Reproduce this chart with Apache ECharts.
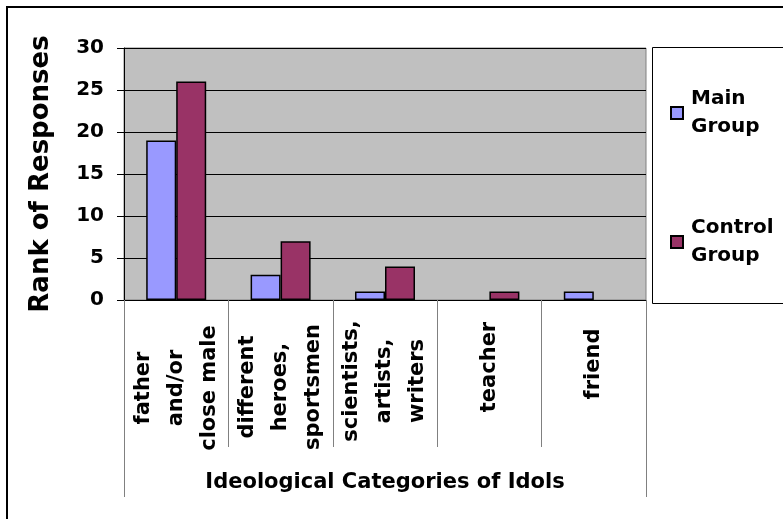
<!DOCTYPE html>
<html>
<head>
<meta charset="utf-8">
<script src="https://cdn.jsdelivr.net/npm/echarts@6/dist/echarts.min.js"></script>
<style>
  html, body { margin: 0; padding: 0; background: #ffffff; overflow: hidden; }
  #chart { width: 783px; height: 519px; }
</style>
</head>
<body>
<div id="chart"></div>
<script>
// Idol categories named by respondents, two survey groups
const categories = [
  'father\nand/or\nclose male',
  'different\nheroes,\nsportsmen',
  'scientists,\nartists,\nwriters',
  'teacher',
  'friend'
];
const mainGroup = [19, 3, 1, 0, 1];
const controlGroup = [26, 7, 4, 1, 0];
const yTicks = [0, 5, 10, 15, 20, 25, 30];

// per-label upward nudge of the rotated category text (px of left padding)
const labelLift = [0, 2, 14, 42, 48];

const FONT = 'DejaVu Sans';

// a zero count gets no outline so nothing shows on the axis
function barData(values) {
  return values.map(v => (v === 0 ? { value: v, itemStyle: { borderWidth: 0 } } : v));
}

const chart = echarts.init(document.getElementById('chart'), null, { renderer: 'canvas' });

const option = {
  backgroundColor: '#ffffff',
  animation: false,
  graphic: [
    {
      // chart frame (open towards the right and bottom)
      type: 'polyline',
      z: -10,
      shape: { points: [[7, 519], [7, 7], [783, 7]] },
      style: { fill: 'none', stroke: '#000000', lineWidth: 2 }
    },
    {
      // legend panel
      type: 'polyline',
      z: -5,
      shape: { points: [[783, 47.5], [652.5, 47.5], [652.5, 303.5], [783, 303.5]] },
      style: { fill: 'none', stroke: '#000000', lineWidth: 1 }
    }
  ],
  grid: {
    left: 124, right: 137, top: 48, bottom: 219,
    outerBoundsMode: 'none',
    containLabel: false,
    show: true,
    backgroundColor: '#C0C0C0',
    borderColor: '#808080',
    borderWidth: 1
  },
  legend: {
    orient: 'vertical',
    left: 670,
    top: 71,
    padding: 0,
    itemWidth: 12,
    itemHeight: 12,
    itemGap: 45,
    icon: 'rect',
    data: ['Main\nGroup', 'Control\nGroup'],
    textStyle: {
      fontFamily: FONT,
      fontWeight: 'bold',
      fontSize: 20,
      color: '#000000',
      lineHeight: 28,
      padding: [28, 0, 0, 3]
    }
  },
  xAxis: [
    {
      type: 'category',
      data: categories.map((c, i) => ({
        value: c,
        textStyle: {
          align: 'center',
          verticalAlign: 'middle',
          padding: [0, 0, 0, labelLift[i]]
        }
      })),
      position: 'bottom',
      axisLine: { show: true, lineStyle: { color: '#000000', width: 1 } },
      axisTick: { show: true, length: 147, lineStyle: { color: '#808080', width: 1 } },
      axisLabel: {
        interval: 0,
        rotate: 90,
        align: 'center',
        verticalAlign: 'middle',
        margin: 88,
        fontFamily: FONT,
        fontWeight: 'bold',
        fontSize: 21,
        lineHeight: 33,
        color: '#000000'
      },
      splitLine: { show: false },
      name: 'Ideological Categories of Idols',
      nameLocation: 'middle',
      nameGap: 172,
      nameTextStyle: {
        fontFamily: FONT,
        fontWeight: 'bold',
        fontSize: 21,
        color: '#000000'
      }
    },
    {
      // outer frame lines of the category band
      type: 'value',
      min: 0,
      max: 1,
      interval: 1,
      position: 'bottom',
      axisLine: { show: false },
      axisTick: { show: true, length: 197, lineStyle: { color: '#808080', width: 1 } },
      axisLabel: { show: false },
      splitLine: { show: false }
    }
  ],
  yAxis: {
    type: 'value',
    min: yTicks[0],
    max: yTicks[yTicks.length - 1],
    interval: yTicks[1] - yTicks[0],
    axisLine: { show: true, lineStyle: { color: '#000000', width: 1 } },
    axisTick: { show: true, length: 7, lineStyle: { color: '#000000' } },
    axisLabel: {
      margin: 20,
      fontFamily: FONT,
      fontWeight: 'bold',
      fontSize: 20,
      color: '#000000'
    },
    splitLine: { show: true, lineStyle: { color: '#000000', width: 1 } },
    name: 'Rank of Responses',
    nameLocation: 'middle',
    nameRotate: 90,
    nameGap: 70,
    nameTextStyle: {
      fontFamily: FONT,
      fontWeight: 'bold',
      fontSize: 26,
      color: '#000000'
    }
  },
  series: [
    {
      name: 'Main\nGroup',
      type: 'bar',
      xAxisIndex: 0,
      data: barData(mainGroup),
      barWidth: 30,
      barGap: '0%',
      itemStyle: { color: '#9999FF', borderColor: '#000000', borderWidth: 1.5 }
    },
    {
      name: 'Control\nGroup',
      type: 'bar',
      xAxisIndex: 0,
      data: barData(controlGroup),
      barWidth: 30,
      barGap: '0%',
      itemStyle: { color: '#993366', borderColor: '#000000', borderWidth: 1.5 }
    }
  ]
};

chart.setOption(option);
</script>
</body>
</html>
